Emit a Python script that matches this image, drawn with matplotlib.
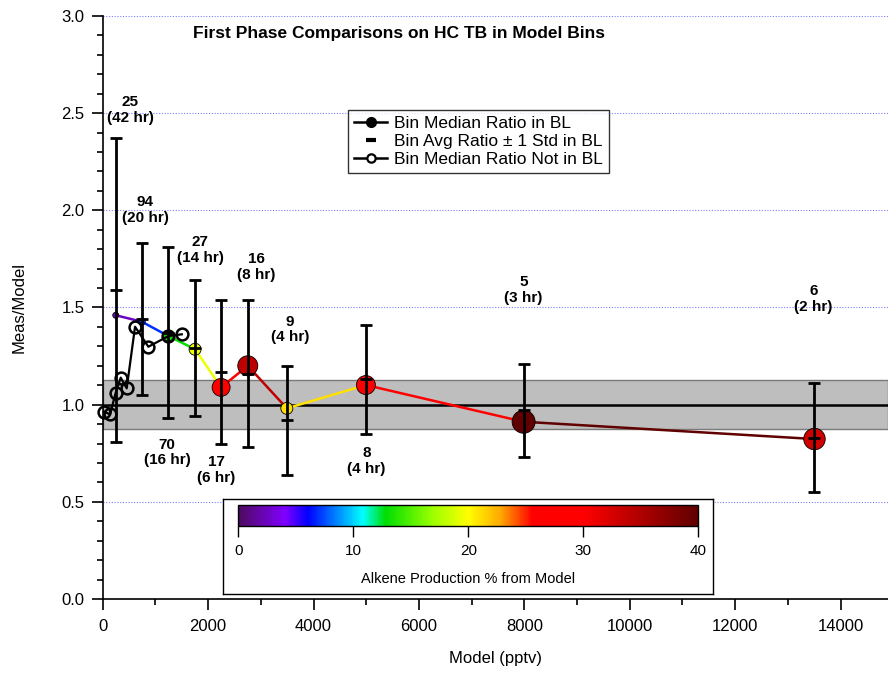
import matplotlib
matplotlib.use("Agg")
import matplotlib.pyplot as plt
import matplotlib.cm as cm
import numpy as np
from matplotlib import font_manager
from matplotlib.colors import LinearSegmentedColormap, Normalize
from matplotlib.collections import LineCollection
from matplotlib.lines import Line2D
from matplotlib.ticker import MultipleLocator, FormatStrFormatter


# ==========================================================================================


# bins in boundary layer
bl_model = [247, 740, 1246, 1752, 2246, 2752, 3493, 4993, 7986, 13505]
bl_median = [1.46, 1.427, 1.353, 1.285, 1.089, 1.20, 0.981, 1.101, 0.912, 0.823]
bl_avg = [1.59, 1.44, 1.37, 1.29, 1.17, 1.16, 0.92, 1.13, 0.97, 0.83]
bl_std = [0.78, 0.39, 0.44, 0.35, 0.37, 0.38, 0.28, 0.28, 0.24, 0.28]
bl_alkene = [2.5, 7, 13, 19.5, 28, 34, 21, 28, 40, 33]
bl_size_px = [6, 7, 10, 12, 18, 20, 12, 19, 23, 21.5]
bl_counts = ["25", "94", "70", "27", "17", "16", "9", "8", "5", "6"]
bl_hours = ["42 hr", "20 hr", "16 hr", "14 hr", "6 hr", "8 hr", "4 hr", "4 hr", "3 hr", "2 hr"]
label_x = [520, 803, 1220, 1847, 2150, 2910, 3556, 5000, 7980, 13485]
label_y = [2.516, 2.002, 0.754, 1.796, 0.664, 1.708, 1.387, 0.710, 1.590, 1.545]

# bins not in boundary layer
nbl_model = [25, 139, 247, 341, 455, 613, 866, 1246, 1500]
nbl_median = [0.964, 0.950, 1.062, 1.139, 1.084, 1.401, 1.298, 1.353, 1.362]

band_low, band_high = 0.875, 1.125
cbar_ticks = [0, 10, 20, 30, 40]


# ==========================================================================================


def has_font(name):
    try:
        font_manager.findfont(font_manager.FontProperties(family=name), fallback_to_default=False)
        return True
    except Exception:
        return False


NARROW = has_font("Liberation Sans Narrow")
narrow_family = ["Liberation Sans Narrow", "Liberation Sans"] if NARROW else ["Liberation Sans"]
plt.rcParams["font.family"] = ["Liberation Sans", "DejaVu Sans"]

cmap = LinearSegmentedColormap.from_list("alkene", [
    (0.00, "#4e0a60"), (0.10, "#8000ff"), (0.15, "#0000ff"), (0.27, "#00ffff"),
    (0.32, "#00dd00"), (0.42, "#99ff00"), (0.50, "#ffff00"), (0.57, "#ffaa00"),
    (0.64, "#ff0000"), (0.75, "#ff0000"), (1.00, "#600000")])
norm = Normalize(0, 40)

fig = plt.figure(figsize=(8.88, 6.73), dpi=100)
ax = fig.add_axes([0.1157, 0.110, 0.8843, 0.8662])

# reference band and 1:1 line
ax.axhspan(band_low, band_high, facecolor="#bebebe", edgecolor="#7a7a7a", lw=1, zorder=1)
ax.axhline(1.0, color="k", lw=1.8, zorder=2)

# coloured median line, each segment in colour of its starting bin
pts = np.column_stack([bl_model, bl_median])
segs = [pts[i:i + 2] for i in range(len(pts) - 1)]
seg_cols = [cmap(norm(z)) for z in bl_alkene[:-1]]
ax.add_collection(LineCollection(segs, colors=seg_cols, linewidths=1.8, zorder=3))
ax.scatter(bl_model, bl_median, s=[(d * 0.72) ** 2 for d in bl_size_px], c=bl_alkene,
           cmap=cmap, norm=norm, edgecolors="k", linewidths=0.6, zorder=4)

# not in BL
ax.plot(nbl_model, nbl_median, color="k", lw=1.6, marker="o", ms=8.5, mfc="none",
        mec="k", mew=1.8, zorder=5, clip_on=False)

# avg +/- std
ax.errorbar(bl_model, bl_avg, yerr=bl_std, fmt="_", color="k", ms=8, mew=2,
            elinewidth=2, capsize=4, capthick=2, zorder=6)

for x, y, n, h in zip(label_x, label_y, bl_counts, bl_hours):
    ax.text(x, y, n + "\n(" + h + ")", ha="center", va="center", fontsize=11,
            fontweight="bold", linespacing=1.15, zorder=7)

ax.set_xlim(0, 14900)
ax.set_ylim(0, 3.0)
ax.xaxis.set_major_locator(MultipleLocator(2000))
ax.xaxis.set_minor_locator(MultipleLocator(1000))
ax.yaxis.set_major_locator(MultipleLocator(0.5))
ax.yaxis.set_minor_locator(MultipleLocator(0.1))
ax.yaxis.set_major_formatter(FormatStrFormatter("%.1f"))
ax.grid(axis="y", which="major", color="#8080ff", ls=(0, (1, 1.5)), lw=0.8, zorder=0)
ax.set_axisbelow(True)

for s in ["top", "right"]:
    ax.spines[s].set_visible(False)
for s in ["left", "bottom"]:
    ax.spines[s].set_linewidth(1.2)
ax.tick_params(which="major", direction="out", length=8, width=1.2, labelsize=12, pad=5)
ax.tick_params(which="minor", direction="out", length=4.3, width=1.2)
ax.tick_params(axis="x", which="major", pad=6.5)

ax.set_xlabel("Model (pptv)", fontsize=12, va="center")
ax.xaxis.set_label_coords(0.5, (599 - 659) / 583)
ax.set_ylabel("Meas/Model", fontsize=12, va="center", ha="center")
ax.yaxis.set_label_coords((19 - 102.7) / 785.3, 0.5)

handles = [
    Line2D([], [], color="k", lw=1.8, marker="o", ms=7, mfc="k", mec="k"),
    Line2D([], [], ls="none", marker="_", color="k", ms=7, mew=3),
    Line2D([], [], color="k", lw=1.8, marker="o", ms=6, mfc="white", mec="k", mew=1.6),
]
labels = ["Bin Median Ratio in BL", "Bin Avg Ratio \u00b1 1 Std in BL", "Bin Median Ratio Not in BL"]
leg = ax.legend(handles, labels, loc="upper left", bbox_to_anchor=(0.3127, 0.8388),
                borderaxespad=0, fontsize=12.5, frameon=True, fancybox=False,
                handlelength=1.9, handletextpad=0.4, labelspacing=0.15, borderpad=0.35)
leg.get_frame().set_edgecolor("k")
leg.get_frame().set_linewidth(1)
leg.set_zorder(10)

title_size = 15 if NARROW else 12.5
fig.text(399 / 888, 0.950, "First Phase Comparisons on HC TB in Model Bins", ha="center",
         va="center", fontsize=title_size, fontweight="bold", family=narrow_family)

# colour scale box
box = fig.add_axes([0.2515, 0.1174, 0.5518, 0.1412])
box.set_xticks([])
box.set_yticks([])
box.set_facecolor("white")
for s in box.spines.values():
    s.set_linewidth(1)

cax = fig.add_axes([238.3 / 888, (673 - 526) / 673, 460 / 888, 21 / 673])
cb = fig.colorbar(cm.ScalarMappable(norm=norm, cmap=cmap), cax=cax, orientation="horizontal")
cb.outline.set_linewidth(1)
cb.set_ticks(cbar_ticks)
cb_size = 12 if NARROW else 11
cax.tick_params(length=8, width=1, pad=5, labelsize=cb_size)
for t in cax.get_xticklabels():
    t.set_family(narrow_family)
cax.set_xlabel("Alkene Production % from Model", fontsize=10.5 if not NARROW else 12,
               family=narrow_family, va="center")
cax.xaxis.set_label_coords(0.5, (526 - 579) / 21)

plt.savefig("out.png", dpi=100)
